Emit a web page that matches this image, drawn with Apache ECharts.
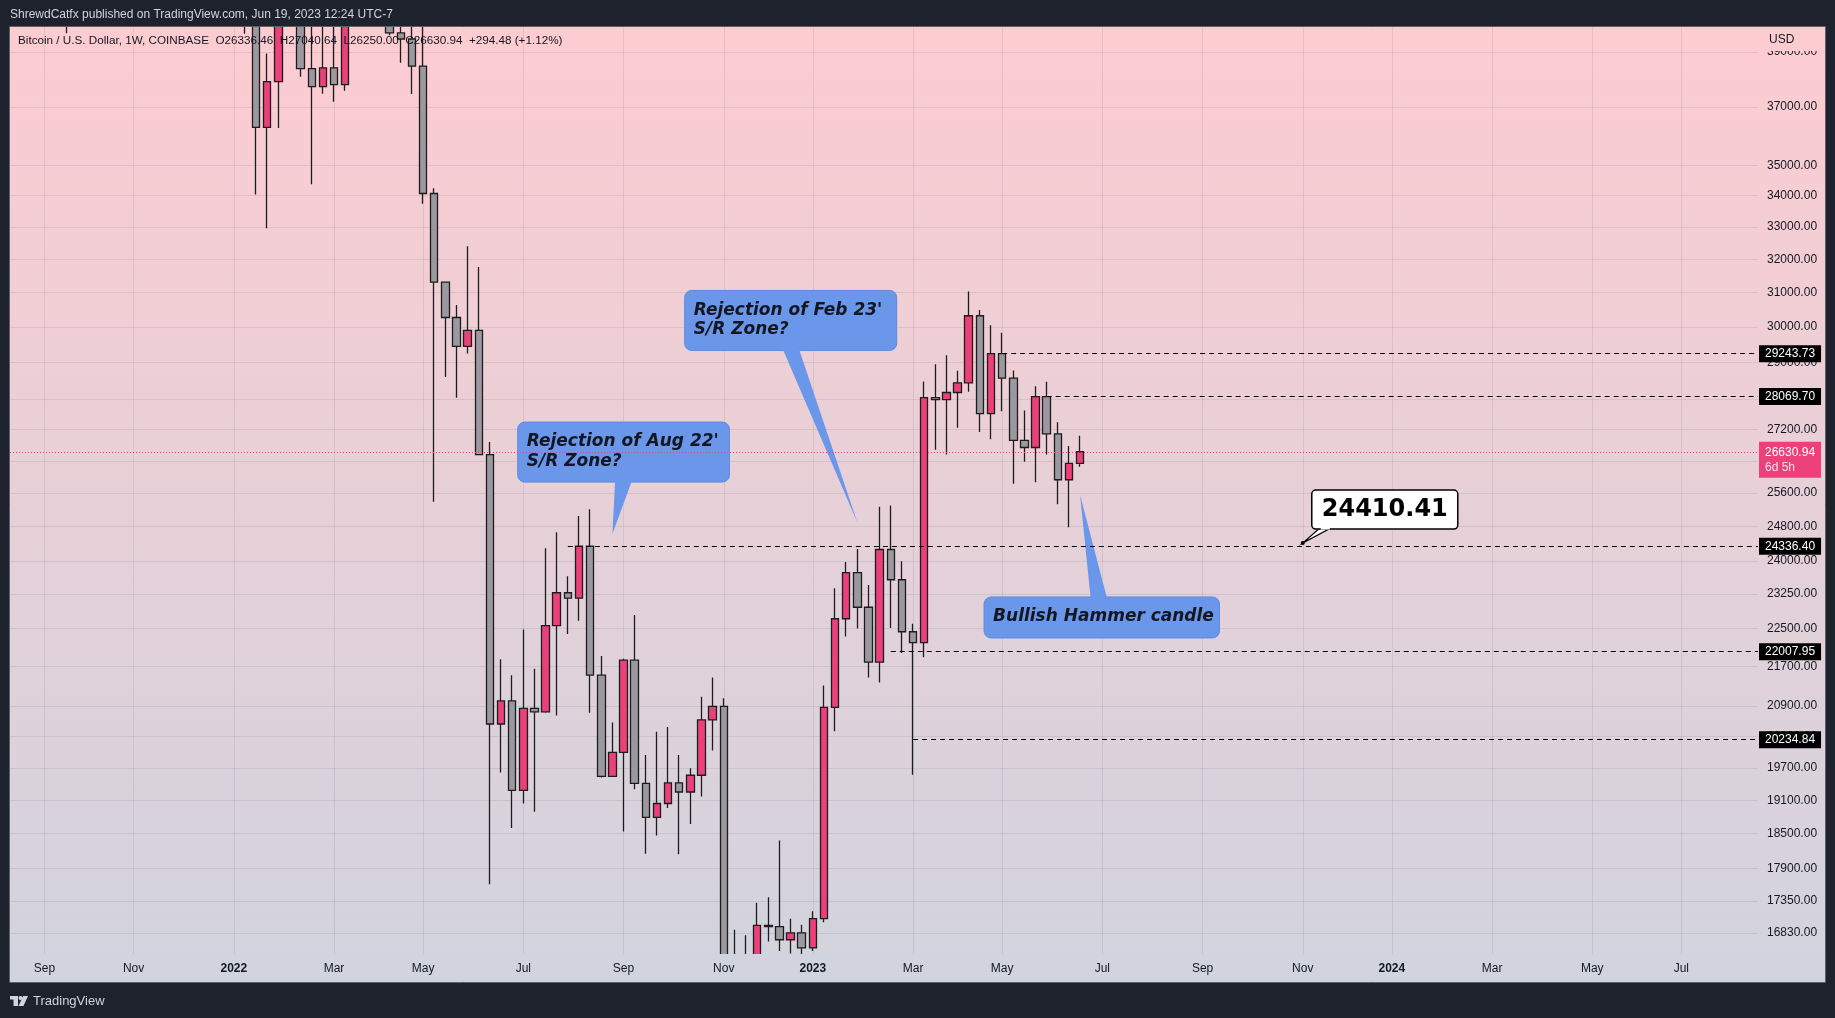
<!DOCTYPE html>
<html><head><meta charset="utf-8">
<script src="https://cdn.jsdelivr.net/npm/echarts@6/dist/echarts.min.js"></script>
<style>html,body{margin:0;padding:0;background:#1e222d;overflow:hidden}#c{width:1835px;height:1018px}</style>
</head><body><div id="c"></div>
<script>
// ---------- DATA ----------
const weeks = ['2021-08-16','2021-08-23','2021-08-30','2021-09-06','2021-09-13','2021-09-20','2021-09-27','2021-10-04','2021-10-11','2021-10-18','2021-10-25','2021-11-01','2021-11-08','2021-11-15','2021-11-22','2021-11-29','2021-12-06','2021-12-13','2021-12-20','2021-12-27',
'2022-01-03','2022-01-10','2022-01-17','2022-01-24','2022-01-31','2022-02-07','2022-02-14','2022-02-21','2022-02-28','2022-03-07','2022-03-14','2022-03-21','2022-03-28','2022-04-04','2022-04-11','2022-04-18','2022-04-25','2022-05-02','2022-05-09','2022-05-16','2022-05-23','2022-05-30','2022-06-06','2022-06-13','2022-06-20','2022-06-27','2022-07-04','2022-07-11','2022-07-18','2022-07-25','2022-08-01','2022-08-08','2022-08-15','2022-08-22','2022-08-29','2022-09-05','2022-09-12','2022-09-19','2022-09-26','2022-10-03','2022-10-10','2022-10-17','2022-10-24','2022-10-31','2022-11-07','2022-11-14','2022-11-21','2022-11-28','2022-12-05','2022-12-12','2022-12-19','2022-12-26',
'2023-01-02','2023-01-09','2023-01-16','2023-01-23','2023-01-30','2023-02-06','2023-02-13','2023-02-20','2023-02-27','2023-03-06','2023-03-13','2023-03-20','2023-03-27','2023-04-03','2023-04-10','2023-04-17','2023-04-24','2023-05-01','2023-05-08','2023-05-15','2023-05-22','2023-05-29','2023-06-05','2023-06-12','2023-06-19'];
const opens = [47050,49300,48850,51800,45000,47260,43200,48200,54960,61540,60860,61300,63300,65500,59700,57300,49400,48400,46700,50800,
46460,41830,43080,36290,37910,42400,42200,38380,37730,38410,37800,41270,46840,46400,42150,39710,39480,38470,34070,31310,30270,29450,29900,26560,20540,21000,19280,20850,20780,22560,23280,23160,24336.4,21520,19540,19990,21830,19410,18790,19040,19420,19250,19560,20620,20890,16330,16280,16450,16950,16930,16720,16830,
16590,17060,20870,22710,23730,22960,21790,24260,23570,22430,22200,28040,27990,28180,28440,30320,27620,29243.73,28570,26920,26740,28069.7,27090,25930,26336.46];
const closes = [49300,48850,51800,45000,47260,43200,48200,54960,61540,60860,61300,63300,65500,59700,57300,49400,48400,46700,50800,46460,
41830,43080,36290,37910,42400,42200,38380,37730,38410,37800,41270,46840,46400,42150,39710,39480,38470,34070,31310,30270,29450,29900,26560,20540,21000,19280,20850,20780,22560,23280,23160,24336.4,21520,19540,19990,21830,19410,18790,19040,19420,19250,19560,20620,20890,16330,16280,16450,16950,16930,16720,16830,16590,
17060,20870,22710,23730,22960,21790,24260,23570,22430,22200,28040,27990,28180,28440,30320,27620,29243.73,28570,26920,26740,28069.7,27090,25930,26336.46,26630.94];
const highs = [49380,50500,52950,52900,48840,47350,49000,56550,62000,67000,63700,64300,69000,66300,59900,59200,51900,49500,51900,52100,
47570,44500,43500,38940,44500,45850,44750,40100,45400,42600,42350,47500,48240,47200,42420,42970,40800,40020,34240,31330,30630,32400,31760,26880,21850,21520,22480,21650,24290,24660,23650,25050,25210,21915,20570,21860,22790,19940,20390,20480,19940,19690,21080,21470,21050,16880,16790,17320,17410,18380,17060,16960,
17180,21310,23380,23970,24270,23450,25270,25300,23990,22600,28480,28950,29200,28770,31030,30490,30050,29830,28780,27700,28350,28470,27390,26780,27040.64];
const lows = [43950,46400,46600,42900,43400,39700,40800,46900,53900,59700,58000,59500,62300,55600,53300,42000,46900,45600,45600,45700,
40600,39680,34040,32960,36270,41700,38080,34370,37470,37190,37580,40500,44200,42100,39620,38600,37460,33740,25390,28600,28040,29250,26540,17630,19610,18600,19040,18890,20760,20710,22380,22665,20760,19520,19530,18540,19300,18150,18470,18960,18140,18670,19170,20030,15600,15820,15480,16050,16690,16540,16500,16460,
16540,17000,20400,22330,22500,21470,21370,22510,21980,19570,21890,26680,26560,27250,28200,27140,26950,27680,25830,26380,25870,26560,25330,24780,26250];
const priceTicks = [16830,17350,17900,18500,19100,19700,20300,20900,21700,22500,23250,24000,24800,25600,26400,27200,28000,29000,30000,31000,32000,33000,34000,35000,37000,39000];
const monthTicks = ['2021-09-06','2021-11-01','2022-01-03','2022-03-07','2022-05-02','2022-07-04','2022-09-05','2022-11-07','2023-01-02','2023-03-06','2023-05-01','2023-07-03','2023-09-04','2023-11-06','2024-01-01','2024-03-04','2024-05-06','2024-07-01'];
const levelPrices = [29243.73, 28069.70, 24336.40, 22007.95, 20234.84];
const levelStarts = ['2023-05-01','2023-05-29','2022-08-01','2023-02-20','2023-03-06'];
const lastPrice = 26630.94;
const noteCallouts = [
  {text:["Rejection of Aug 22'","S/R Zone?"], date:'2022-08-29', price:24620},
  {text:["Rejection of Feb 23'","S/R Zone?"], date:'2023-01-30', price:24895},
  {text:["Bullish Hammer candle"], date:'2023-06-19', price:25556}
];
const priceNote = {text:'24410.41', date:'2023-11-06', price:24410.41};

// ---------- CHART ----------
const FONT = "'Liberation Sans', Arial, sans-serif";
const MONTHS = ['Jan','Feb','Mar','Apr','May','Jun','Jul','Aug','Sep','Oct','Nov','Dec'];
function utc(s){const a=s.split('-').map(Number);return Date.UTC(a[0],a[1]-1,a[2]);}
const W = 7*86400000;
const GL = 10, GR = 77, GT = 27, GB = 64;
const pxPerWeek = 11.135;
const xMin = utc('2022-01-03') - 20.10*W;
const xMax = xMin + ((1835-GL-GR)/pxPerWeek)*W;
const yMin = 16494, yMax = 39935;
const BG_TOP = '#FDCCD1', BG_BOT = '#D1D4DE', DARK = '#1e222d';

const candleData = weeks.map((w,i)=>[utc(w), opens[i], closes[i], lows[i], highs[i]]);
const monthVals = monthTicks.map(utc);

const dashStyle = {color:'#000', width:1, type:[5,4]};
const markData = levelPrices.map((p,i)=>[
  {coord:[utc(levelStarts[i]), p], lineStyle:dashStyle,
   label:{show:true, position:'end', distance:1, formatter:p.toFixed(2), color:'#fff', backgroundColor:'#000',
          padding:[3,6,2,6], fontSize:12, fontFamily:FONT}},
  {coord:[xMax, p]}
]);
markData.push([
  {coord:[xMin, lastPrice], lineStyle:{color:'#EC407A', width:1, type:[1,2]},
   label:{show:true, position:'end', distance:1, offset:[0,8], formatter:'{a|'+lastPrice.toFixed(2)+'}\n{b|6d 5h}',
          backgroundColor:'#EC407A', padding:[3,6,3,6],
          rich:{a:{color:'#fff',fontSize:12,fontFamily:FONT,lineHeight:15},b:{color:'#fde3ea',fontSize:12,fontFamily:FONT,lineHeight:15}}}},
  {coord:[xMax, lastPrice]}
]);

const monthFmt = (v)=>{const d=new Date(v);const m=d.getUTCMonth();return m===0?('{y|'+d.getUTCFullYear()+'}'):MONTHS[m];};

const chart = echarts.init(document.getElementById('c'), null, {renderer:'canvas'});
chart.setOption({
  animation:false,
  backgroundColor:DARK,
  grid:{left:GL, right:GR, top:GT, bottom:GB, containLabel:false},
  xAxis:[{
    type:'value', min:xMin, max:xMax, scale:true, position:'bottom',
    axisLine:{show:false}, axisTick:{show:false, customValues:monthVals},
    axisLabel:{show:false, customValues:monthVals},
    splitLine:{show:true, lineStyle:{color:'rgba(90,90,105,0.13)', width:1}}
  },{
    type:'value', min:xMin, max:xMax, scale:true, position:'bottom', offset:0, z:30,
    axisLine:{show:false}, axisTick:{show:false, customValues:monthVals},
    axisLabel:{customValues:monthVals, color:'#131722', fontSize:12, fontFamily:FONT, margin:9, formatter:monthFmt,
      rich:{y:{fontWeight:'bold', fontSize:12, fontFamily:FONT, color:'#131722'}}},
    splitLine:{show:false}
  }],
  yAxis:{
    type:'log', logBase:10, min:yMin, max:yMax, position:'right',
    axisLine:{show:false}, axisTick:{show:false, customValues:priceTicks},
    axisLabel:{customValues:priceTicks, color:'#131722', fontSize:12, fontFamily:FONT, margin:9,
      formatter:(v)=>Number(v).toFixed(2)},
    splitLine:{show:true, lineStyle:{color:'rgba(90,90,105,0.13)', width:1}}
  },
  series:[{
    type:'candlestick', xAxisIndex:0, data:candleData, barWidth:8, clip:true,
    itemStyle:{color:'#EC407A', color0:'#9C989F', borderColor:'#1c1c1c', borderColor0:'#1c1c1c', borderWidth:1.3},
    markLine:{silent:true, animation:false, symbol:['none','none'], data:markData}
  }]
});

// ---------- ANNOTATIONS ----------
function px(date, price){return chart.convertToPixel({xAxisIndex:0,yAxisIndex:0},[utc(date), price]);}
const g = [];
g.push({type:'rect', z:-10, silent:true, shape:{x:GL, y:GT, width:1825-GL, height:982-GT},
  style:{fill:new echarts.graphic.LinearGradient(0,0,0,1,[{offset:0,color:BG_TOP},{offset:1,color:BG_BOT}])}});
// covers that trim marks outside the plot area
g.push({type:'rect', z:10, silent:true, shape:{x:0, y:0, width:1835, height:GT}, style:{fill:DARK}});
g.push({type:'rect', z:10, silent:true, shape:{x:GL, y:1018-GB, width:1825-GL, height:982-(1018-GB)}, style:{fill:BG_BOT}});
g.push({type:'rect', z:10, silent:true, shape:{x:0, y:982, width:1835, height:36}, style:{fill:DARK}});
g.push({type:'rect', z:12, silent:true, shape:{x:GL-0.5, y:GT-0.5, width:1825-GL+1, height:982-GT+1}, style:{fill:null, stroke:'#5d606b', lineWidth:1}});

g.push({type:'text', z:20, silent:true, style:{x:10, y:15, text:'ShrewdCatfx published on TradingView.com, Jun 19, 2023 12:24 UTC-7',
  fill:'#D1D4DC', font:'12px '+FONT, verticalAlign:'middle'}});
g.push({type:'text', z:20, silent:true, style:{x:18, y:41, text:'Bitcoin / U.S. Dollar, 1W, COINBASE  O26336.46  H27040.64  L26250.00  C26630.94  +294.48 (+1.12%)',
  fill:'#131722', font:'11.7px '+FONT, verticalAlign:'middle'}});
g.push({type:'rect', z:15, silent:true, shape:{x:1759, y:28, width:65, height:23}, style:{fill:BG_TOP}});
g.push({type:'text', z:16, silent:true, style:{x:1769, y:40, text:'USD', fill:'#131722', font:'12px '+FONT, verticalAlign:'middle'}});
// TradingView logo
g.push({type:'rect', z:20, silent:true, shape:{x:10,y:996,width:8,height:3.5}, style:{fill:'#D1D4DC'}});
g.push({type:'rect', z:20, silent:true, shape:{x:13.5,y:996,width:4.5,height:10}, style:{fill:'#D1D4DC'}});
g.push({type:'circle', z:20, silent:true, shape:{cx:20.5,cy:998,r:2}, style:{fill:'#D1D4DC'}});
g.push({type:'polygon', z:20, silent:true, shape:{points:[[23,996],[28,996],[23.5,1006],[18.5,1006]]}, style:{fill:'#D1D4DC'}});
g.push({type:'text', z:20, silent:true, style:{x:33, y:1001, text:'TradingView', fill:'#D1D4DC', font:'13px '+FONT, verticalAlign:'middle'}});

const CB = '#6B97EB', CBS = '#5C89DE';
const CFONT = "italic bold 17px 'DejaVu Sans', sans-serif";
function callout(tip, box, base, lines){
  g.push({type:'rect', z:1, silent:true, shape:{x:box[0], y:box[1], width:box[2]-box[0], height:box[3]-box[1], r:7},
    style:{fill:CB, stroke:CBS, lineWidth:1}});
  const by = base[2];
  const inward = by > tip[1] ? 1.5 : -1.5;
  g.push({type:'polygon', z:1, silent:true, shape:{points:[[base[0], by+inward],[base[1], by+inward],[tip[0],tip[1]]]}, style:{fill:CB}});
  lines.forEach((t,i)=>g.push({type:'text', z:2, silent:true, style:{x:box[0]+9, y:box[1]+20+i*19.5, text:t, fill:'#131722', font:CFONT, verticalAlign:'middle'}}));
}
{
  const t = px(noteCallouts[0].date, noteCallouts[0].price);
  callout(t, [t[0]-94.7, t[1]-112, t[0]+117, t[1]-52], [t[0]+2.7, t[0]+19.6, t[1]-52], noteCallouts[0].text);
}
{
  const t = px(noteCallouts[1].date, noteCallouts[1].price);
  callout(t, [t[0]-172.7, t[1]-232, t[0]+39.3, t[1]-172], [t[0]-74.7, t[0]-58.4, t[1]-172], noteCallouts[1].text);
}
{
  const t = px(noteCallouts[2].date, noteCallouts[2].price);
  callout(t, [t[0]-96, t[1]+102, t[0]+139.4, t[1]+143], [t[0]+10.6, t[0]+27, t[1]+102], noteCallouts[2].text);
}
{
  const t = px(priceNote.date, priceNote.price);
  g.push({type:'polygon', z:3, silent:true, shape:{points:[[t[0]+17, t[1]-15],[t[0]+28, t[1]-15],[t[0], t[1]]]}, style:{fill:'#fff', stroke:'#000', lineWidth:1.2}});
  g.push({type:'rect', z:4, silent:true, shape:{x:t[0]+9, y:t[1]-53, width:146, height:39, r:4}, style:{fill:'#fff', stroke:'#000', lineWidth:1.5}});
  g.push({type:'rect', z:5, silent:true, shape:{x:t[0]+18, y:t[1]-15.5, width:9, height:2}, style:{fill:'#fff'}});
  g.push({type:'circle', z:5, silent:true, shape:{cx:t[0], cy:t[1], r:2}, style:{fill:'#000'}});
  g.push({type:'text', z:6, silent:true, style:{x:t[0]+82, y:t[1]-33.5, text:priceNote.text, fill:'#000', font:"bold 24px 'DejaVu Sans', sans-serif", align:'center', verticalAlign:'middle'}});
}
chart.setOption({graphic:{elements:g}});
</script>
</body></html>
